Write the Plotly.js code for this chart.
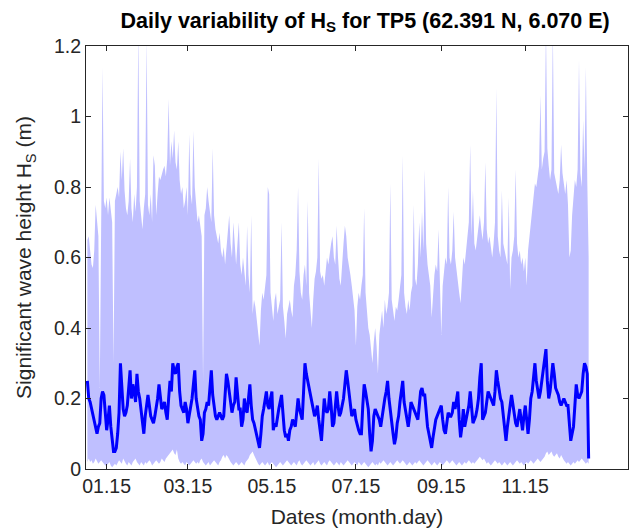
<!DOCTYPE html>
<html><head><meta charset="utf-8">
<script src="https://cdn.plot.ly/plotly-3.0.1.min.js"></script>
<style>html,body{margin:0;padding:0;background:#fff}#chart{width:639px;height:531px}</style>
</head><body><div id="chart"></div>
<script>
// Daily mean significant wave height (m), Jan 1 .. Dec 31
const meanHs = [
.25,.20,.19,.17,.15,.14,.12,.10,.12,.13,
.20,.22,.21,.15,.11,.14,.18,.12,.08,.05,
.05,.06,.10,.16,.30,.22,.17,.15,.16,.18,
.22,.28,.20,.24,.22,.19,.27,.22,.20,.16,
.13,.10,.15,.19,.21,.18,.15,.14,.13,.15,
.17,.20,.24,.20,.17,.18,.19,.16,.14,.20,
.25,.22,.30,.28,.27,.29,.30,.22,.18,.17,
.16,.19,.17,.13,.15,.17,.20,.24,.28,.20,
.17,.15,.14,.08,.10,.16,.17,.19,.18,.22,
.28,.21,.17,.15,.14,.15,.16,.15,.14,.15,
.20,.27,.25,.22,.18,.16,.18,.19,.26,.22,
.17,.17,.12,.14,.20,.17,.16,.20,.24,.18,
.14,.13,.11,.09,.07,.06,.10,.15,.17,.20,
.22,.18,.17,.20,.22,.11,.13,.12,.15,.17,
.19,.21,.16,.11,.09,.10,.08,.11,.12,.14,
.13,.12,.16,.20,.17,.15,.14,.22,.30,.27,
.25,.24,.22,.20,.17,.15,.16,.18,.14,.10,
.08,.14,.20,.17,.16,.17,.22,.18,.12,.13,
.17,.22,.18,.15,.16,.18,.20,.24,.28,.25,
.22,.18,.15,.16,.17,.14,.12,.11,.10,.10,
.18,.24,.22,.19,.17,.10,.05,.08,.15,.17,
.16,.15,.14,.12,.15,.18,.20,.22,.25,.20,
.16,.14,.10,.07,.09,.13,.15,.19,.23,.25,
.19,.17,.14,.12,.15,.19,.18,.17,.16,.15,
.14,.18,.22,.23,.21,.21,.15,.12,.10,.08,
.06,.09,.12,.14,.15,.16,.17,.18,.14,.11,
.10,.13,.16,.15,.15,.16,.19,.17,.20,.22,
.14,.09,.12,.17,.12,.14,.16,.18,.22,.16,
.13,.14,.15,.17,.20,.26,.30,.14,.15,.16,
.19,.22,.21,.20,.19,.18,.22,.28,.25,.22,
.20,.19,.15,.11,.08,.12,.16,.18,.21,.18,
.15,.13,.12,.15,.17,.14,.11,.15,.18,.14,
.10,.14,.20,.22,.26,.30,.25,.22,.20,.22,
.25,.28,.31,.34,.25,.20,.22,.26,.30,.27,
.23,.22,.21,.19,.18,.19,.20,.19,.18,.18,
.12,.08,.10,.12,.18,.24,.21,.20,.21,.22,
.27,.30,.29,.27,.03
];
// Daily maximum Hs (m)
const maxHs = [
.65,.66,.62,.58,.57,.62,.75,.70,.66,.23,
.68,1.14,.76,.74,.77,.72,.77,.73,.70,.30,
.76,.78,.80,.77,.90,.82,.91,.79,.74,.72,
.76,.88,.74,.70,.78,.73,.80,1.25,.76,.72,
.68,.74,.78,1.22,.75,.72,.78,.70,.89,.86,
.72,.78,.83,.82,.84,.85,.86,.83,.88,1.05,
.86,.93,.88,.96,.87,.85,.93,.82,.78,.80,
.74,.76,.80,.72,.95,.78,.75,.96,.80,.75,
.70,.72,.68,.66,.25,.72,.74,.80,.76,.73,
.70,.91,.72,.68,.66,.64,.67,.62,.60,.63,
.58,.62,.66,.72,.64,.60,.70,.62,.58,.64,
.70,.58,.55,.60,.56,.52,.69,.55,.50,.72,
.44,.48,.46,.42,.38,.35,.45,.50,.48,.52,
.55,.80,.78,.50,.45,.42,.48,.50,.44,.46,
.48,.70,.46,.42,.37,.44,.46,.48,.45,.43,
.52,.55,.62,.80,.56,.50,.48,.55,.58,.52,
.76,.50,.45,.40,.48,.54,.56,.60,.88,.56,
.54,.55,.52,.56,.60,.58,.62,.64,.66,.60,
.58,.69,.60,.54,.52,.60,.64,.69,.66,.60,
.58,.55,.52,.48,.45,.35,.46,.50,.48,.52,
.55,.74,.50,.45,.40,.38,.33,.30,.36,.40,
.35,.27,.38,.42,.45,.40,.48,.44,.46,.50,
.81,.48,.44,.42,.46,.45,.48,.52,.55,.89,
.50,.46,.44,.48,.45,.50,.52,.75,.54,.52,
.58,.70,.60,.73,.62,.85,.64,.58,.55,.52,
.43,.50,.55,.58,.56,.68,.55,.38,.52,.56,
.60,.58,.80,.60,.58,.62,.73,.60,.56,.52,
.50,.47,.55,.60,.58,.62,.65,.70,.92,.66,
.79,.64,.62,.66,.70,.72,.68,.65,.70,.87,
.68,.64,.66,.62,.60,.64,.70,1.08,.66,.62,
.60,.79,.64,.62,.60,.58,.77,.51,.60,.62,
.66,.85,.64,.60,.62,.58,.60,.56,.60,.52,
.62,.66,.70,.75,.78,.81,.80,.84,.86,1.06,
.85,.88,.90,1.25,.91,.86,.82,.85,1.25,.84,
.82,.80,.78,.82,.92,.84,.80,.78,.82,.75,
.60,.62,.72,.78,.82,.80,.85,1.16,.84,.80,
.99,.85,1.14,.82,.60
];
// Daily minimum Hs (m)
const minHs = [
.02,.03,.02,.025,.015,.02,.03,.02,.015,.02,
.025,.02,.015,.01,.01,.015,.02,.01,.005,.01,
.015,.01,.02,.025,.02,.015,.03,.02,.015,.01,
.02,.015,.01,.02,.025,.03,.02,.015,.01,.02,
.015,.01,.02,.015,.02,.025,.02,.01,.015,.02,
.025,.02,.015,.02,.03,.025,.02,.03,.035,.04,
.045,.05,.055,.045,.04,.055,.03,.02,.015,.02,
.015,.01,.02,.015,.01,.015,.02,.025,.02,.015,
.02,.015,.025,.03,.02,.015,.01,.015,.02,.01,
.015,.02,.025,.02,.015,.01,.02,.025,.035,.04,
.03,.04,.035,.025,.02,.015,.01,.015,.02,.015,
.01,.015,.02,.015,.01,.02,.025,.03,.04,.045,
.05,.04,.03,.02,.015,.01,.015,.02,.015,.01,
.015,.02,.01,.015,.02,.015,.01,.005,.01,.015,
.02,.015,.01,.015,.02,.025,.02,.015,.01,.015,
.02,.015,.01,.02,.025,.015,.01,.015,.02,.025,
.02,.015,.01,.015,.02,.01,.015,.02,.025,.015,
.01,.015,.02,.015,.01,.02,.025,.02,.015,.01,
.015,.02,.015,.01,.02,.015,.01,.015,.02,.025,
.02,.015,.01,.015,.02,.015,.01,.02,.015,.01,
.015,.02,.015,.01,.005,.01,.015,.02,.015,.01,
.015,.01,.02,.015,.02,.025,.02,.015,.01,.015,
.02,.015,.01,.015,.02,.025,.02,.015,.02,.025,
.02,.015,.01,.015,.02,.015,.01,.015,.02,.015,
.02,.025,.02,.015,.01,.015,.02,.025,.02,.015,
.01,.015,.02,.015,.01,.015,.02,.015,.01,.015,
.02,.025,.02,.015,.02,.025,.02,.015,.01,.015,
.02,.015,.01,.015,.02,.015,.02,.025,.02,.015,
.02,.015,.02,.025,.03,.035,.03,.025,.03,.02,
.015,.02,.015,.01,.015,.02,.025,.02,.015,.02,
.015,.01,.015,.02,.015,.01,.015,.02,.015,.01,
.015,.02,.025,.02,.015,.02,.015,.01,.015,.02,
.015,.02,.025,.02,.015,.02,.025,.03,.025,.02,
.025,.03,.035,.045,.05,.04,.045,.05,.04,.035,
.04,.045,.035,.03,.04,.03,.025,.02,.015,.02,
.015,.01,.015,.02,.015,.02,.025,.02,.025,.03,
.025,.02,.015,.02,.015
];
const startYear = 2019;
const tickDates = ['2019-01-15','2019-03-15','2019-05-15','2019-07-15','2019-09-15','2019-11-15'];
const tickLabels = ['01.15','03.15','05.15','07.15','09.15','11.15'];

const dates = meanHs.map((_, i) => new Date(Date.UTC(startYear, 0, 1 + i)).toISOString().slice(0, 10));

const FONT = "'Liberation Sans', Arial, Helvetica, sans-serif";
const AX = '#262626';

const traces = [
  {x: dates, y: maxHs, type: 'scatter', mode: 'lines', line: {width: 0, color: 'rgba(0,0,0,0)'}, hoverinfo: 'skip', showlegend: false},
  {x: dates, y: minHs, type: 'scatter', mode: 'lines', fill: 'tonexty', fillcolor: 'rgb(191,191,255)', line: {width: 0, color: 'rgba(0,0,0,0)'}, hoverinfo: 'skip', showlegend: false},
  {x: dates, y: meanHs, type: 'scatter', mode: 'lines', line: {width: 3, color: 'rgb(0,0,255)'}, showlegend: false}
];

const layout = {
  width: 639, height: 531,
  margin: {l: 86, r: 11, t: 46, b: 62},
  paper_bgcolor: '#fff', plot_bgcolor: '#fff',
  font: {family: FONT, color: AX},
  title: {
    text: '<b>Daily variability of H<sub>S</sub> for TP5 (62.391 N, 6.070 E)</b>',
    font: {family: FONT, size: 21.5, color: '#000'},
    x: 0.515, xref: 'paper', xanchor: 'center',
    y: 0.962, yref: 'container', yanchor: 'middle'
  },
  xaxis: {
    type: 'date',
    range: ['2018-12-31', '2020-01-28 14:00'],
    tickmode: 'array', tickvals: tickDates, ticktext: tickLabels,
    ticks: 'inside', ticklen: 5, tickcolor: AX, tickwidth: 1,
    showline: true, linecolor: AX, linewidth: 1, mirror: 'ticks',
    showgrid: false, zeroline: false,
    tickfont: {family: FONT, size: 19.5, color: AX},
    title: {text: 'Dates (month.day)', font: {family: FONT, size: 21, color: AX}, standoff: 12}
  },
  yaxis: {
    range: [0, 1.2], tick0: 0, dtick: 0.2,
    ticks: 'inside', ticklen: 5, tickcolor: AX, tickwidth: 1,
    showline: true, linecolor: AX, linewidth: 1, mirror: 'ticks',
    showgrid: false, zeroline: false,
    tickfont: {family: FONT, size: 19.5, color: AX},
    title: {text: 'Significant wave height H<sub>S</sub> (m)', font: {family: FONT, size: 21, color: AX}, standoff: 16}
  }
};

Plotly.newPlot('chart', traces, layout, {displayModeBar: false, staticPlot: true});
</script>
</body></html>
